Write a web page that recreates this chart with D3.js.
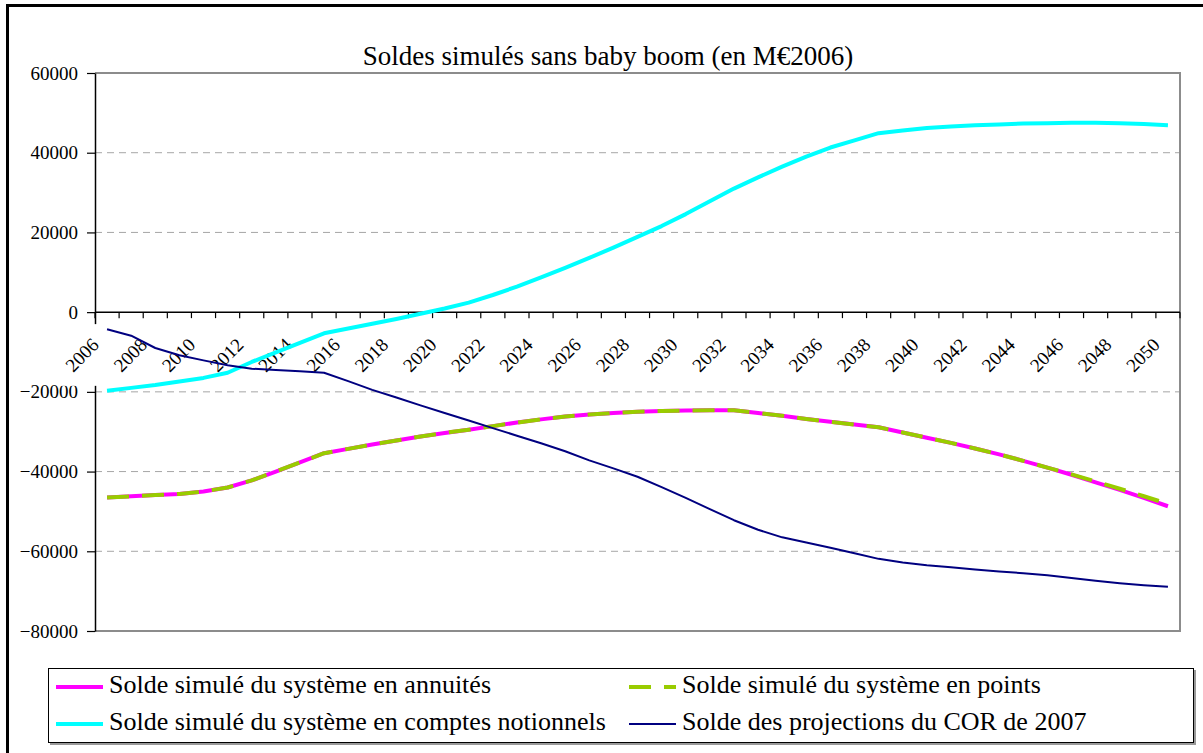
<!DOCTYPE html>
<html>
<head>
<meta charset="utf-8">
<script src="https://cdn.jsdelivr.net/npm/d3@7"></script>
<style>
  body { margin: 0; background: #fff; }
</style>
</head>
<body>
<svg id="chart" width="1203" height="753" font-family="Liberation Serif"></svg>
<script>
const FONT = "Liberation Serif";

// Years on the category axis
const years = [2006, 2007, 2008, 2009, 2010, 2011, 2012, 2013, 2014, 2015,
    2016, 2017, 2018, 2019, 2020, 2021, 2022, 2023, 2024, 2025,
    2026, 2027, 2028, 2029, 2030, 2031, 2032, 2033, 2034, 2035,
    2036, 2037, 2038, 2039, 2040, 2041, 2042, 2043, 2044, 2045,
    2046, 2047, 2048, 2049, 2050];
const yearLabels = [2006, 2008, 2010, 2012, 2014, 2016, 2018, 2020, 2022, 2024, 2026, 2028,
    2030, 2032, 2034, 2036, 2038, 2040, 2042, 2044, 2046, 2048, 2050];
const yTicks = [60000, 40000, 20000, 0, -20000, -40000, -60000, -80000];

// Solde simulé du système en annuités
const annuites = [-46500, -46200, -45900, -45600, -45000, -44000, -42200, -40000, -37700, -35400,
    -34300, -33200, -32200, -31200, -30300, -29500, -28600, -27700, -26900, -26200,
    -25700, -25300, -25000, -24800, -24700, -24600, -24600, -25300, -26000, -26800,
    -27500, -28200, -28900, -30200, -31500, -32800, -34200, -35700, -37300, -39000,
    -40800, -42700, -44600, -46600, -48700];
// Solde simulé du système en points
const points = [-46500, -46200, -45900, -45600, -45000, -44000, -42200, -40000, -37700, -35400,
    -34300, -33200, -32200, -31200, -30300, -29500, -28600, -27700, -26900, -26200,
    -25700, -25300, -25000, -24800, -24700, -24600, -24600, -25300, -26000, -26800,
    -27500, -28200, -28900, -30200, -31500, -32800, -34200, -35700, -37300, -39000,
    -40700, -42500, -44300, -46200, -48100];
// Solde simulé du système en comptes notionnels
const notionnels = [-19700, -19000, -18300, -17400, -16500, -15200, -12500, -10100, -7700, -5300,
    -4100, -2900, -1700, -400, 900, 2400, 4300, 6400, 8700, 11100,
    13600, 16200, 18900, 21600, 24600, 27800, 31000, 33800, 36500, 39000,
    41300, 43100, 44900, 45600, 46200, 46600, 46900, 47100, 47300, 47400,
    47500, 47500, 47400, 47200, 46900];
// Solde des projections du COR de 2007
const cor2007 = [-4300, -5900, -9000, -10800, -12100, -13300, -14200, -14500, -14800, -15200,
    -17300, -19500, -21400, -23400, -25300, -27200, -29100, -31000, -32900, -34900,
    -37200, -39200, -41300, -43900, -46600, -49400, -52200, -54600, -56500, -57800,
    -59100, -60500, -61900, -62800, -63500, -64000, -64600, -65100, -65500, -66000,
    -66700, -67400, -68000, -68500, -68900];

const series = [
    { name: "Solde simulé du système en annuités", values: annuites, color: "#ff00ff", width: 4, dash: null },
    { name: "Solde simulé du système en points", values: points, color: "#99cc00", width: 4, dash: "22,13" },
    { name: "Solde simulé du système en comptes notionnels", values: notionnels, color: "#00ffff", width: 4, dash: null },
    { name: "Solde des projections du COR de 2007", values: cor2007, color: "#000080", width: 2, dash: null }
];

const plot = { left: 95, right: 1180, top: 73, bottom: 631 };

const svg = d3.select("#chart");

// Outer chart frame
svg.append("rect")
    .attr("x", 7.5).attr("y", 5.5)
    .attr("width", 1210).attr("height", 760)
    .attr("fill", "none")
    .attr("stroke", "#000")
    .attr("stroke-width", 3);

const x = d3.scaleBand().domain(years).range([plot.left, plot.right]).paddingInner(0).paddingOuter(0);
const y = d3.scaleLinear().domain([-80000, 60000]).range([plot.bottom, plot.top]);
const cx = d => x(d) + x.bandwidth() / 2;

// Title
svg.append("text")
    .attr("x", 608)
    .attr("y", 65)
    .attr("text-anchor", "middle")
    .attr("font-family", FONT)
    .attr("font-size", 27)
    .text("Soldes simulés sans baby boom (en M€2006)");

// Gridlines
svg.append("g").selectAll("line")
    .data(yTicks.filter(v => v !== 0 && v !== 60000 && v !== -80000))
    .join("line")
    .attr("x1", plot.left).attr("x2", plot.right)
    .attr("y1", d => y(d)).attr("y2", d => y(d))
    .attr("stroke", "#a6a6a6")
    .attr("stroke-width", 1)
    .attr("stroke-dasharray", "7,5");

// Plot frame (top, right, bottom)
svg.append("path")
    .attr("d", `M${plot.left},${plot.top}H${plot.right}V${plot.bottom}H${plot.left}`)
    .attr("fill", "none")
    .attr("stroke", "#8c8c8c")
    .attr("stroke-width", 2);

// X axis tick labels
const xLabels = svg.append("g").attr("class", "x-labels");
const labelNodes = xLabels.selectAll("text")
    .data(yearLabels)
    .join("text")
    .attr("transform", d => `translate(${cx(d) - 7},${y(0) + 34}) rotate(-45)`)
    .attr("text-anchor", "end")
    .attr("font-family", FONT)
    .attr("font-size", 19)
    .text(d => d);

// Y axis
const yAxis = svg.append("g")
    .attr("transform", `translate(${plot.left},0)`)
    .call(d3.axisLeft(y).tickValues(yTicks).tickFormat(d3.format("d")).tickSize(8).tickSizeOuter(0).tickPadding(9));
yAxis.attr("font-family", FONT).attr("font-size", 19);
yAxis.select(".domain").attr("stroke", "#000").attr("stroke-width", 1.5);
yAxis.selectAll(".tick line").attr("stroke", "#000").attr("stroke-width", 1.2);
yAxis.selectAll(".tick text").attr("fill", "#000");

// white boxes behind the year labels hide the axis line where they overlap
labelNodes.each(function () {
    const r = this.getBoundingClientRect();
    const top = Math.max(y(0) + 8, r.top - 10);
    xLabels.insert("rect", "text")
        .attr("x", r.left - 2)
        .attr("y", top)
        .attr("width", r.width + 4)
        .attr("height", Math.min(r.bottom + 10, 388) - top)
        .attr("fill", "#fff");
});
xLabels.raise();

// X axis at zero, ticks between categories
const xAxis = svg.append("g");
xAxis.append("line")
    .attr("x1", plot.left).attr("x2", plot.right)
    .attr("y1", y(0)).attr("y2", y(0))
    .attr("stroke", "#000").attr("stroke-width", 1.5);
xAxis.selectAll(".xt")
    .data(years.concat([null]))
    .join("line")
    .attr("class", "xt")
    .attr("x1", d => d === null ? plot.right : x(d))
    .attr("x2", d => d === null ? plot.right : x(d))
    .attr("y1", y(0)).attr("y2", y(0) + 6)
    .attr("stroke", "#000").attr("stroke-width", 1.2);

// Series lines
const line = d3.line()
    .x((d, i) => cx(years[i]))
    .y(d => y(d));

series.forEach(s => {
    svg.append("path")
        .datum(s.values)
        .attr("d", line)
        .attr("fill", "none")
        .attr("stroke", s.color)
        .attr("stroke-width", s.width)
        .attr("stroke-linejoin", "round")
        .attr("stroke-dasharray", s.dash);
});

// Legend
const legend = svg.append("g").attr("class", "legend");
legend.append("rect")
    .attr("x", 50).attr("y", 670)
    .attr("width", 1146).attr("height", 75)
    .attr("fill", "#999");
legend.append("rect")
    .attr("x", 48.5).attr("y", 668.5)
    .attr("width", 1145).attr("height", 74)
    .attr("fill", "#fff")
    .attr("stroke", "#000")
    .attr("stroke-width", 1);

const legendPos = [
    { x: 56, y: 687 },
    { x: 629, y: 687 },
    { x: 56, y: 724 },
    { x: 629, y: 724 }
];

series.forEach((s, i) => {
    const p = legendPos[i];
    const g = legend.append("g").attr("transform", `translate(${p.x},${p.y})`);
    g.append("line")
        .attr("x1", 0).attr("x2", 47)
        .attr("y1", 0).attr("y2", 0)
        .attr("stroke", s.color)
        .attr("stroke-width", s.width)
        .attr("stroke-dasharray", s.dash);
    g.append("text")
        .attr("x", 53)
        .attr("y", 6)
        .attr("font-family", FONT)
        .attr("font-size", 26)
        .text(s.name);
});
</script>
</body>
</html>
